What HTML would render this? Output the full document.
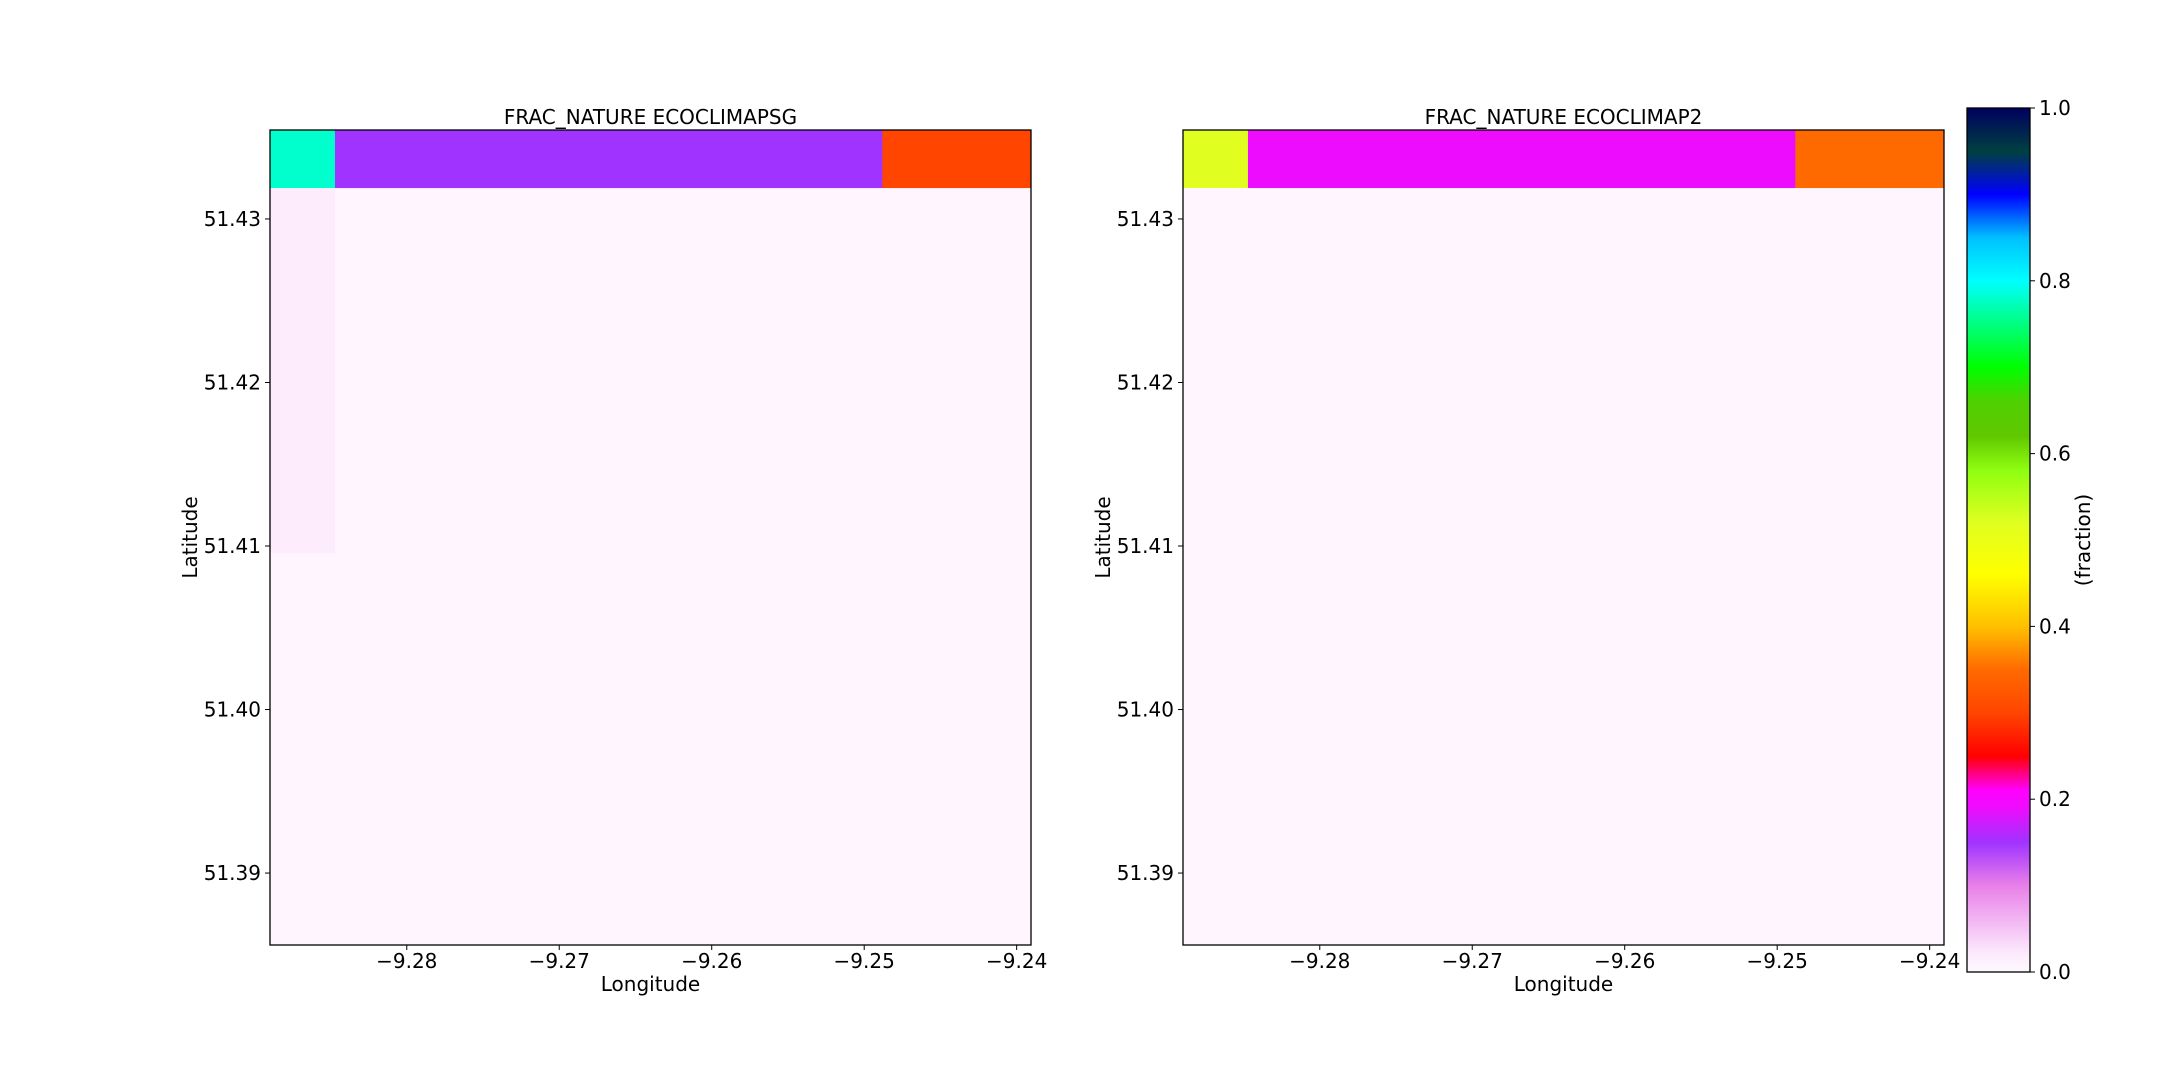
<!DOCTYPE html>
<html><head><meta charset="utf-8"><style>
body{margin:0;background:#fff}
svg text{font-family:"DejaVu Sans","Liberation Sans",sans-serif;fill:#000}
</style></head><body>
<svg id="fig" width="2160" height="1080" xmlns="http://www.w3.org/2000/svg">
<defs><linearGradient id="cmap" x1="0" y1="1" x2="0" y2="0"></linearGradient></defs>
<rect width="2160" height="1080" fill="#fff"/>
</svg>
<script>
const lonEdges=[-9.28897,-9.28471,-9.24881,-9.23906];
const latEdges=[51.43544,51.43189,51.40957,51.38560];
const leftValues=[[0.78,0.15,0.30],[0.02,0.005,0.005],[0.005,0.005,0.005]];
const rightValues=[[0.52,0.19,0.35],[0.005,0.005,0.005],[0.005,0.005,0.005]];
const xTicks=[-9.28,-9.27,-9.26,-9.25,-9.24];
const xTickLabels=["\u22129.28","\u22129.27","\u22129.26","\u22129.25","\u22129.24"];
const yTicks=[51.43,51.42,51.41,51.40,51.39];
const yTickLabels=["51.43","51.42","51.41","51.40","51.39"];
const cbTicks=[0,0.2,0.4,0.6,0.8,1.0];
const cbTickLabels=["0.0","0.2","0.4","0.6","0.8","1.0"];
const titles=["FRAC_NATURE ECOCLIMAPSG","FRAC_NATURE ECOCLIMAP2"];
const stops=[[0,"#fff8ff"],[0.02,"#fcecfc"],[0.1,"#e880e8"],[0.15,"#a033ff"],[0.19,"#ee0cff"],[0.21,"#ff00ff"],[0.25,"#ff0000"],[0.30,"#ff4500"],[0.35,"#ff6a00"],[0.40,"#ffc000"],[0.46,"#ffff00"],[0.52,"#e0ff20"],[0.58,"#90ff10"],[0.62,"#60c800"],[0.66,"#50d000"],[0.70,"#00ff00"],[0.8,"#00ffff"],[0.85,"#00c0ff"],[0.9,"#0000ff"],[0.95,"#004040"],[1,"#000060"]];
const NS="http://www.w3.org/2000/svg";
const svg=document.getElementById('fig');
function mk(tag,attrs,parent){const e=document.createElementNS(NS,tag);for(const k in attrs)e.setAttribute(k,attrs[k]);(parent||svg).appendChild(e);return e;}
function hex2(h){return [1,3,5].map(i=>parseInt(h.substr(i,2),16));}
function colorOf(v){for(let i=1;i<stops.length;i++){if(v<=stops[i][0]){const a=stops[i-1],b=stops[i];const t=(v-a[0])/(b[0]-a[0]);const ca=hex2(a[1]),cb=hex2(b[1]);return "rgb("+ca.map((c,j)=>Math.round(c+(cb[j]-c)*t)).join(",")+")";}}return stops[stops.length-1][1];}
const grad=svg.querySelector('#cmap');
stops.forEach(s=>mk('stop',{offset:s[0],'stop-color':s[1]},grad));
const axW=761,axTop=130,axBot=945;
function drawPanel(x0,vals,title,idx){
  const g=mk('g',{});
  
  
  const sx=l=>x0+(l-lonEdges[0])/(lonEdges[3]-lonEdges[0])*axW;
  const sy=l=>axTop+(latEdges[0]-l)/(latEdges[0]-latEdges[3])*(axBot-axTop);
  for(let r=0;r<3;r++)for(let c=0;c<3;c++){
    const x1=sx(lonEdges[c]),x2=sx(lonEdges[c+1]),y1=sy(latEdges[r]),y2=sy(latEdges[r+1]);
    const cell=mk('rect',{x:x1,y:y1,width:x2-x1+0.5,height:y2-y1+0.5,fill:colorOf(vals[r][c])},g);
    
    
  }
  mk('rect',{x:x0,y:axTop,width:axW,height:axBot-axTop,fill:'none',stroke:'#000','stroke-width':1.3},g);
  xTicks.forEach((t,i)=>{const x=sx(t);mk('line',{x1:x,x2:x,y1:axBot,y2:axBot+5,stroke:'#000'},g);
    const tx=mk('text',{x:x,y:968,'font-size':20,'text-anchor':'middle'},g);tx.textContent=xTickLabels[i];
    
    });
  yTicks.forEach((t,i)=>{const y=sy(t);mk('line',{x1:x0-5,x2:x0,y1:y,y2:y,stroke:'#000'},g);
    const tx=mk('text',{x:x0-9,y:y+7,'font-size':20,'text-anchor':'end'},g);tx.textContent=yTickLabels[i];
    
    });
  const tt=mk('text',{x:x0+axW/2,y:124,'font-size':20,'text-anchor':'middle'},g);tt.textContent=title;
  
  
  const xl=mk('text',{x:x0+axW/2,y:991,'font-size':20,'text-anchor':'middle'},g);xl.textContent='Longitude';
  
  
  const yc=(axTop+axBot)/2, lx=x0-73;
  const yl=mk('text',{x:lx,y:yc,'font-size':20,'text-anchor':'middle',transform:'rotate(-90 '+lx+' '+yc+')'},g);yl.textContent='Latitude';
  
  
}
drawPanel(270,leftValues,titles[0],0);
drawPanel(1183,rightValues,titles[1],1);
const cbX=1967,cbW=63,cbTop=108,cbBot=972;
const cb=mk('g',{});


mk('rect',{x:cbX,y:cbTop,width:cbW,height:cbBot-cbTop,fill:'url(#cmap)',stroke:'#000','stroke-width':1.3},cb);
cbTicks.forEach((t,i)=>{const y=cbBot-t*(cbBot-cbTop);mk('line',{x1:cbX+cbW,x2:cbX+cbW+5,y1:y,y2:y,stroke:'#000'},cb);
  const tx=mk('text',{x:cbX+cbW+9,y:y+7,'font-size':20},cb);tx.textContent=cbTickLabels[i];
  
  });
const cl=mk('text',{x:2090,y:540,'font-size':20,'text-anchor':'middle',transform:'rotate(-90 2090 540)'},cb);cl.textContent='(fraction)';


</script>
</body></html>
